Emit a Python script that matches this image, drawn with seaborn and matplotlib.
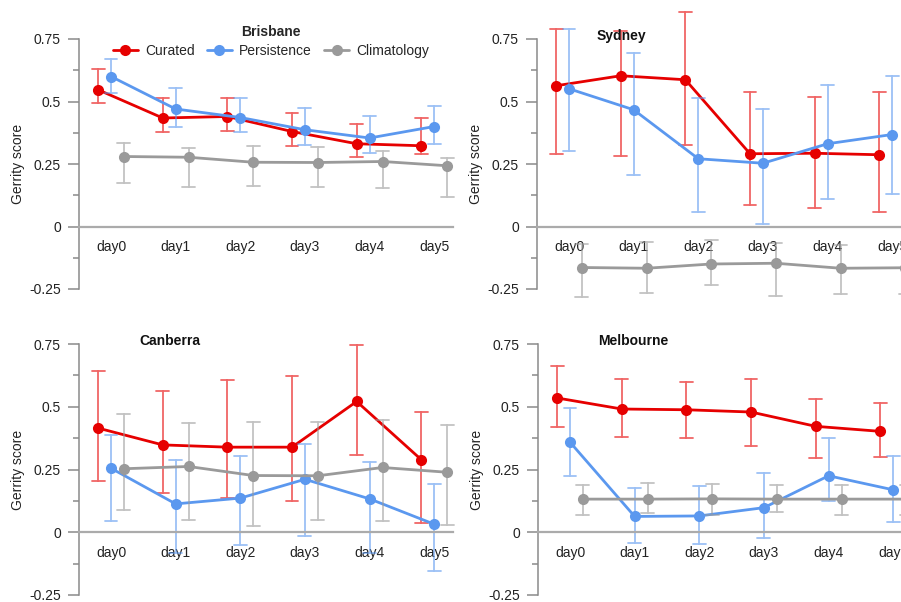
import numpy as np
import pandas as pd
import matplotlib
matplotlib.use("Agg")
import matplotlib.pyplot as plt
import seaborn as sns

days = ["day0", "day1", "day2", "day3", "day4", "day5"]
series_names = ["Curated", "Persistence", "Climatology"]
cities = ["Brisbane", "Sydney", "Canberra", "Melbourne"]

# Brisbane
bri_cur = [0.547, 0.434, 0.440, 0.380, 0.331, 0.323]
bri_cur_lo = [0.496, 0.378, 0.383, 0.323, 0.280, 0.291]
bri_cur_hi = [0.631, 0.516, 0.516, 0.456, 0.410, 0.434]
bri_per = [0.600, 0.470, 0.436, 0.387, 0.354, 0.400]
bri_per_lo = [0.536, 0.400, 0.378, 0.327, 0.293, 0.330]
bri_per_hi = [0.670, 0.556, 0.516, 0.476, 0.444, 0.483]
bri_cli = [0.280, 0.277, 0.257, 0.256, 0.260, 0.243]
bri_cli_lo = [0.174, 0.158, 0.163, 0.158, 0.154, 0.120]
bri_cli_hi = [0.334, 0.316, 0.323, 0.317, 0.304, 0.276]

# Sydney
syd_cur = [0.563, 0.603, 0.587, 0.291, 0.293, 0.287]
syd_cur_lo = [0.291, 0.283, 0.326, 0.087, 0.076, 0.060]
syd_cur_hi = [0.791, 0.784, 0.858, 0.540, 0.520, 0.540]
syd_per = [0.551, 0.467, 0.271, 0.253, 0.331, 0.368]
syd_per_lo = [0.304, 0.207, 0.059, 0.010, 0.110, 0.131]
syd_per_hi = [0.791, 0.694, 0.514, 0.471, 0.567, 0.603]
syd_cli = [-0.164, -0.167, -0.150, -0.147, -0.167, -0.165]
syd_cli_lo = [-0.280, -0.267, -0.233, -0.277, -0.270, -0.270]
syd_cli_hi = [-0.069, -0.060, -0.053, -0.067, -0.073, -0.070]

# Canberra
can_cur = [0.415, 0.348, 0.339, 0.339, 0.521, 0.289]
can_cur_lo = [0.205, 0.158, 0.136, 0.125, 0.309, 0.036]
can_cur_hi = [0.644, 0.561, 0.608, 0.624, 0.747, 0.481]
can_per = [0.255, 0.113, 0.136, 0.211, 0.133, 0.032]
can_per_lo = [0.045, -0.084, -0.050, -0.015, -0.081, -0.153]
can_per_hi = [0.388, 0.289, 0.302, 0.352, 0.279, 0.191]
can_cli = [0.253, 0.262, 0.226, 0.225, 0.258, 0.239]
can_cli_lo = [0.089, 0.049, 0.025, 0.049, 0.045, 0.029]
can_cli_hi = [0.472, 0.437, 0.439, 0.440, 0.448, 0.428]

# Melbourne
mel_cur = [0.535, 0.491, 0.488, 0.479, 0.422, 0.402]
mel_cur_lo = [0.418, 0.379, 0.375, 0.342, 0.295, 0.298]
mel_cur_hi = [0.661, 0.612, 0.598, 0.612, 0.532, 0.515]
mel_per = [0.359, 0.063, 0.065, 0.098, 0.225, 0.169]
mel_per_lo = [0.225, -0.041, -0.048, -0.021, 0.125, 0.040]
mel_per_hi = [0.497, 0.176, 0.186, 0.238, 0.375, 0.302]
mel_cli = [0.132, 0.132, 0.133, 0.132, 0.132, 0.132]
mel_cli_lo = [0.069, 0.076, 0.069, 0.080, 0.069, 0.070]
mel_cli_hi = [0.189, 0.198, 0.193, 0.189, 0.189, 0.190]

ytick_vals = [-0.25, 0, 0.25, 0.5, 0.75]
ytick_labels = ["-0.25", "0", "0.25", "0.5", "0.75"]

city_data = {
    "Brisbane": [(bri_cur, bri_cur_lo, bri_cur_hi), (bri_per, bri_per_lo, bri_per_hi), (bri_cli, bri_cli_lo, bri_cli_hi)],
    "Sydney": [(syd_cur, syd_cur_lo, syd_cur_hi), (syd_per, syd_per_lo, syd_per_hi), (syd_cli, syd_cli_lo, syd_cli_hi)],
    "Canberra": [(can_cur, can_cur_lo, can_cur_hi), (can_per, can_per_lo, can_per_hi), (can_cli, can_cli_lo, can_cli_hi)],
    "Melbourne": [(mel_cur, mel_cur_lo, mel_cur_hi), (mel_per, mel_per_lo, mel_per_hi), (mel_cli, mel_cli_lo, mel_cli_hi)],
}

rows = []
for city, ser in city_data.items():
    for name, (mid, lo, hi) in zip(series_names, ser):
        for d, m, l, h in zip(days, mid, lo, hi):
            for v in (l, m, h):
                rows.append({"city": city, "series": name, "day": d, "score": v})
df = pd.DataFrame(rows)

sns.set_style("white")
plt.rcParams["font.family"] = ["Liberation Sans", "DejaVu Sans"]
plt.rcParams["font.size"] = 10

palette = {"Curated": "#e60000", "Persistence": "#5b98ef", "Climatology": "#9a9a9a"}

fig = plt.figure(figsize=(9.01, 6.02), dpi=100)
W, H = 901.0, 602.0
positions = {
    "Brisbane": [79 / W, 1 - 289 / H, 374 / W, 250 / H],
    "Sydney": [537 / W, 1 - 289 / H, 374 / W, 250 / H],
    "Canberra": [79 / W, 1 - 595 / H, 374 / W, 251 / H],
    "Melbourne": [538 / W, 1 - 595 / H, 374 / W, 251 / H],
}

for city in cities:
    ax = fig.add_axes(positions[city])
    sub = df[df["city"] == city]
    sns.pointplot(
        data=sub, x="day", y="score", hue="series",
        order=days, hue_order=series_names, palette=palette,
        estimator="median", errorbar=("pi", 100),
        dodge=0.4, capsize=0.2, markersize=6.5, linewidth=2,
        err_kws={"linewidth": 1.3, "alpha": 0.6},
        legend=(city == "Brisbane"), ax=ax,
    )
    for ln in ax.lines:
        ln.set_clip_on(False)
    ax.set_xlim(-0.495, 5.29)
    ax.set_ylim(-0.25, 0.75)
    ax.set_yticks(ytick_vals)
    ax.set_yticklabels(ytick_labels)
    ax.set_yticks([-0.125, 0.125, 0.375, 0.625], minor=True)
    ax.set_xlabel("")
    ax.set_ylabel("Gerrity score", fontsize=10, color="#222222", labelpad=3)
    for s in ["top", "right"]:
        ax.spines[s].set_visible(False)
    ax.spines["left"].set_color("#8a8a8a")
    ax.spines["left"].set_linewidth(1.1)
    ax.spines["bottom"].set_position(("data", 0))
    ax.spines["bottom"].set_color("#ababab")
    ax.spines["bottom"].set_linewidth(1.6)
    ax.tick_params(axis="x", length=0, pad=10, labelsize=10, labelcolor="#222222")
    ax.tick_params(axis="y", which="major", direction="out", length=8, width=1.1,
                   color="#8a8a8a", pad=5, labelsize=10, labelcolor="#222222", left=True)
    ax.tick_params(axis="y", which="minor", direction="out", length=4.5, width=1.1,
                   color="#8a8a8a", left=True)
    if city == "Brisbane":
        sns.move_legend(
            ax, loc="center", bbox_to_anchor=(0.513, 0.99), ncol=3, frameon=False,
            title="Brisbane", title_fontproperties={"weight": "bold", "size": 10},
            handlelength=1.8, handletextpad=0.5, columnspacing=0.9, fontsize=10,
            labelspacing=0.3, borderpad=0.2,
        )
    else:
        ax.text(60 / 374, 1.012, city, transform=ax.transAxes, ha="left", va="center",
                fontsize=10, fontweight="bold", color="#111111")

fig.savefig("out.png", dpi=100)
